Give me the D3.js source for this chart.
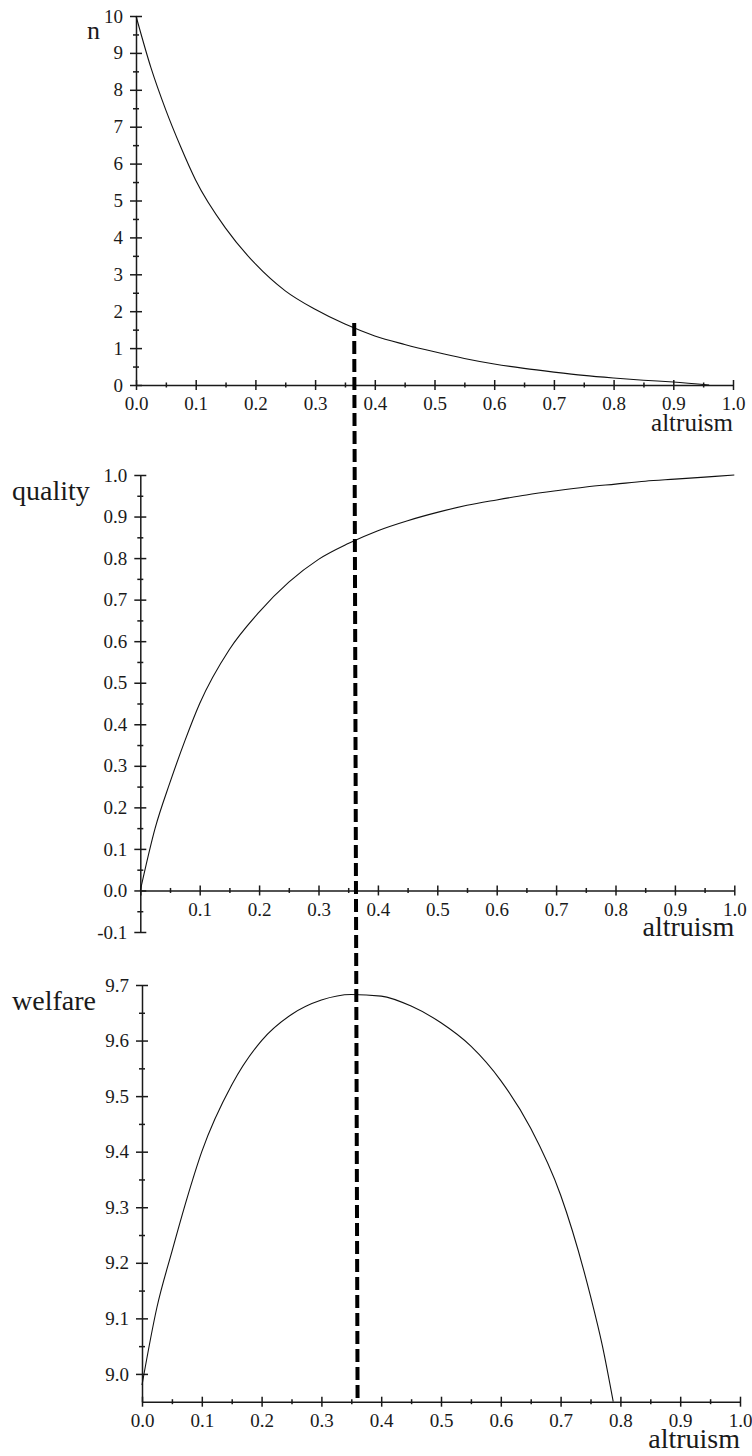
<!DOCTYPE html>
<html>
<head>
<meta charset="utf-8">
<script src="https://cdn.jsdelivr.net/npm/d3@7"></script>
<style>
  body { margin: 0; background: #fff; }
  svg text { font-family: "Liberation Serif", "Times New Roman", serif; fill: #1a1a1a; }
</style>
</head>
<body>
<svg width="752" height="1456"></svg>
<script>
// values
const nAltruism = [0, 0.025, 0.05, 0.075, 0.1, 0.15, 0.2, 0.25, 0.3, 0.35, 0.4, 0.45, 0.5, 0.55, 0.6, 0.65, 0.7, 0.75, 0.8, 0.85, 0.9, 0.96];
const nValues = [10, 8.6, 7.45, 6.45, 5.55, 4.25, 3.28, 2.55, 2.05, 1.65, 1.33, 1.1, 0.9, 0.72, 0.57, 0.45, 0.35, 0.26, 0.19, 0.13, 0.08, 0.0];

const qualityAltruism = [0, 0.025, 0.05, 0.075, 0.1, 0.15, 0.2, 0.25, 0.3, 0.35, 0.4, 0.45, 0.5, 0.55, 0.6, 0.65, 0.7, 0.75, 0.8, 0.85, 0.9, 0.95, 1.0];
const qualityValues = [0, 0.15, 0.26, 0.36, 0.45, 0.58, 0.67, 0.742, 0.797, 0.835, 0.866, 0.89, 0.91, 0.927, 0.94, 0.952, 0.962, 0.971, 0.978, 0.985, 0.99, 0.995, 1.0];

const welfareAltruism = [0, 0.025, 0.05, 0.075, 0.1, 0.15, 0.2, 0.25, 0.3, 0.35, 0.4, 0.45, 0.5, 0.55, 0.6, 0.65, 0.7, 0.75, 0.77, 0.788];
const welfareValues = [8.98, 9.12, 9.22, 9.315, 9.40, 9.52, 9.60, 9.647, 9.673, 9.683, 9.68, 9.662, 9.632, 9.59, 9.528, 9.442, 9.322, 9.14, 9.05, 8.95];

// tick values
const xMajor = [0, 0.1, 0.2, 0.3, 0.4, 0.5, 0.6, 0.7, 0.8, 0.9, 1.0];
const xMinor = [0.05, 0.15, 0.25, 0.35, 0.45, 0.55, 0.65, 0.75, 0.85, 0.95];
const nMajor = [0, 1, 2, 3, 4, 5, 6, 7, 8, 9, 10];
const nMinor = [0.5, 1.5, 2.5, 3.5, 4.5, 5.5, 6.5, 7.5, 8.5, 9.5];
const qualityMajor = [-0.1, 0, 0.1, 0.2, 0.3, 0.4, 0.5, 0.6, 0.7, 0.8, 0.9, 1.0];
const qualityMinor = [-0.05, 0.05, 0.15, 0.25, 0.35, 0.45, 0.55, 0.65, 0.75, 0.85, 0.95];
const welfareMajor = [9.0, 9.1, 9.2, 9.3, 9.4, 9.5, 9.6, 9.7];
const welfareMinor = [9.05, 9.15, 9.25, 9.35, 9.45, 9.55, 9.65];

// dashed marker at the welfare maximum (top / bottom end)
const dashAltruism = [0.3655, 0.3605];
const dashTopN = 1.68;

const svg = d3.select('svg');

const panels = [
  {
    xs: nAltruism, ys: nValues, label: 'n', labelX: 87, labelY: 39, labelSize: 26,
    xRange: [136, 733], yDomain: [0, 10], yRange: [385, 16], xAxisAt: 0,
    yMajor: nMajor, yMinor: nMinor, yFmt: (d) => String(d), skipX0: false, altSize: 25
  },
  {
    xs: qualityAltruism, ys: qualityValues, label: 'quality', labelX: 12, labelY: 500, labelSize: 28,
    xRange: [140.3, 734.3], yDomain: [-0.1, 1.0], yRange: [932, 475], xAxisAt: 0,
    yMajor: qualityMajor, yMinor: qualityMinor, yFmt: (d) => d.toFixed(1), skipX0: true, altSize: 28
  },
  {
    xs: welfareAltruism, ys: welfareValues, label: 'welfare', labelX: 12, labelY: 1010, labelSize: 28,
    xRange: [142, 740], yDomain: [8.95, 9.7], yRange: [1401.7, 985], xAxisAt: 8.95,
    yMajor: welfareMajor, yMinor: welfareMinor, yFmt: (d) => d.toFixed(1), skipX0: false, altSize: 28
  }
];

panels.forEach((p) => {
  p.x = d3.scaleLinear().domain([0, 1]).range(p.xRange);
  p.y = d3.scaleLinear().domain(p.yDomain).range(p.yRange);
  const g = svg.append('g').style('color', '#1a1a1a');
  const axisY = p.y(p.xAxisAt);
  const x0 = p.x(0);

  // y axis, ticks crossing the line
  const yAx = g.append('g').attr('transform', `translate(${x0},0)`)
    .call(d3.axisLeft(p.y).tickValues(p.yMajor).tickSize(6).tickSizeOuter(0).tickPadding(7).tickFormat(p.yFmt));
  yAx.selectAll('.tick line').attr('x1', 6);
  const yMin = g.append('g').attr('transform', `translate(${x0},0)`)
    .call(d3.axisLeft(p.y).tickValues(p.yMinor).tickSize(3).tickFormat(''));
  yMin.select('.domain').remove();
  yMin.selectAll('.tick line').attr('x1', 3);

  // x axis
  const xAx = g.append('g').attr('transform', `translate(0,${axisY})`)
    .call(d3.axisBottom(p.x).tickValues(xMajor).tickSize(5).tickSizeOuter(0).tickPadding(7)
      .tickFormat((d) => (p.skipX0 && d === 0 ? '' : d.toFixed(1))));
  xAx.selectAll('.tick line').attr('y1', -5);
  const xMin = g.append('g').attr('transform', `translate(0,${axisY})`)
    .call(d3.axisBottom(p.x).tickValues(xMinor).tickSize(2.5).tickFormat(''));
  xMin.select('.domain').remove();
  xMin.selectAll('.tick line').attr('y1', -2.5);

  g.selectAll('.domain, .tick line').attr('stroke-width', 1.5);
  g.selectAll('g').attr('font-family', null);
  g.selectAll('.tick text').attr('font-size', 19);

  // curve
  const pts = p.xs.map((a, i) => [a, p.ys[i]]);
  g.append('path')
    .attr('d', d3.line().x((d) => p.x(d[0])).y((d) => p.y(d[1])).curve(d3.curveMonotoneX)(pts))
    .attr('fill', 'none')
    .attr('stroke', '#111')
    .attr('stroke-width', 1.1);

  // labels
  g.append('text').attr('x', p.labelX).attr('y', p.labelY)
    .attr('font-size', p.labelSize).text(p.label);
  g.append('text').attr('x', p.xRange[1]).attr('y', axisY + 46)
    .attr('text-anchor', 'end').attr('font-size', p.altSize).text('altruism');
});

// dashed vertical line through all three panels
const topPanel = panels[0], bottomPanel = panels[2];
svg.append('line')
  .attr('x1', topPanel.x(dashAltruism[0])).attr('y1', topPanel.y(dashTopN))
  .attr('x2', bottomPanel.x(dashAltruism[1])).attr('y2', bottomPanel.y(bottomPanel.xAxisAt))
  .attr('stroke', '#000')
  .attr('stroke-width', 4)
  .attr('stroke-dasharray', '13,5');
</script>
</body>
</html>
